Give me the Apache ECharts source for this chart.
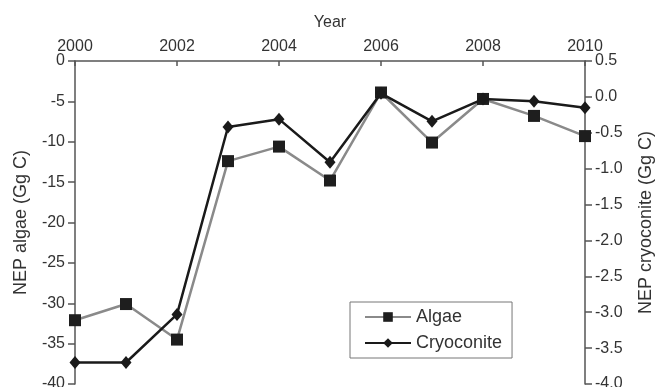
<!DOCTYPE html>
<html>
<head>
<meta charset="utf-8">
<script src="https://cdn.jsdelivr.net/npm/echarts@6/dist/echarts.min.js"></script>
<style>
  html, body { margin: 0; padding: 0; background: #fff; }
  #chart { width: 656px; height: 387px; }
</style>
</head>
<body>
<div id="chart"></div>
<script>
// Net ecosystem production per year, algae (left axis) and cryoconite (right axis)
const years = [2000, 2001, 2002, 2003, 2004, 2005, 2006, 2007, 2008, 2009, 2010];
const algae = [-32.1, -30.1, -34.5, -12.4, -10.6, -14.8, -3.9, -10.1, -4.7, -6.8, -9.3];
const cryoconite = [-3.7, -3.7, -3.03, -0.42, -0.31, -0.91, 0.05, -0.34, -0.03, -0.06, -0.15];

const FONT = '"Liberation Sans", Arial, sans-serif';
const TXT = '#333';
const AX = '#555';

const chart = echarts.init(document.getElementById('chart'), null, { renderer: 'canvas' });

chart.setOption({
  animation: false,
  backgroundColor: '#fff',
  textStyle: { fontFamily: FONT, color: TXT },
  grid: { left: 75, right: 71, top: 61, bottom: 3, containLabel: false, outerBoundsMode: 'none' },
  legend: {
    left: 350, top: 302,
    orient: 'vertical',
    borderColor: '#777', borderWidth: 1,
    padding: [6, 10, 6, 14],
    itemWidth: 46, itemHeight: 12, itemGap: 8,
    textStyle: { fontFamily: FONT, fontSize: 18, color: TXT },
    data: ['Algae', 'Cryoconite']
  },
  xAxis: {
    type: 'value',
    position: 'top',
    min: 2000, max: 2010, interval: 2,
    name: 'Year', nameLocation: 'middle', nameGap: 30,
    nameTextStyle: { fontFamily: FONT, fontSize: 16, color: TXT },
    axisLine: { show: true, lineStyle: { color: AX, width: 1.5 } },
    axisTick: { show: true, inside: true, length: 5, lineStyle: { color: AX, width: 1.5 } },
    axisLabel: { fontFamily: FONT, fontSize: 16, color: TXT, margin: 6,
      formatter: v => String(v) },
    splitLine: { show: false }
  },
  yAxis: [
    {
      type: 'value',
      position: 'left',
      min: -40, max: 0, interval: 5,
      name: 'NEP algae (Gg C)', nameLocation: 'middle', nameGap: 45, nameRotate: 90,
      nameTextStyle: { fontFamily: FONT, fontSize: 18, color: TXT },
      axisLine: { show: true, lineStyle: { color: AX, width: 1.5 } },
      axisTick: { show: true, length: 7, lineStyle: { color: AX, width: 1.5 } },
      axisLabel: { fontFamily: FONT, fontSize: 16, color: TXT, margin: 10 },
      splitLine: { show: false }
    },
    {
      type: 'value',
      position: 'right',
      min: -4, max: 0.5, interval: 0.5,
      name: 'NEP cryoconite (Gg C)', nameLocation: 'middle', nameGap: 52, nameRotate: 90,
      nameTextStyle: { fontFamily: FONT, fontSize: 18, color: TXT },
      axisLine: { show: true, lineStyle: { color: AX, width: 1.5 } },
      axisTick: { show: true, length: 7, lineStyle: { color: AX, width: 1.5 } },
      axisLabel: { fontFamily: FONT, fontSize: 16, color: TXT, margin: 10,
        formatter: v => v.toFixed(1) },
      splitLine: { show: false }
    }
  ],
  series: [
    {
      name: 'Algae',
      type: 'line',
      yAxisIndex: 0,
      data: years.map((y, i) => [y, algae[i]]),
      symbol: 'rect', symbolSize: 12,
      lineStyle: { color: '#8a8a8a', width: 2.5 },
      itemStyle: { color: '#1e1e1e' },
      z: 2
    },
    {
      name: 'Cryoconite',
      type: 'line',
      yAxisIndex: 1,
      data: years.map((y, i) => [y, cryoconite[i]]),
      symbol: 'diamond', symbolSize: [11, 13],
      lineStyle: { color: '#1a1a1a', width: 2.5 },
      itemStyle: { color: '#1a1a1a' },
      z: 3
    }
  ]
});
</script>
</body>
</html>
